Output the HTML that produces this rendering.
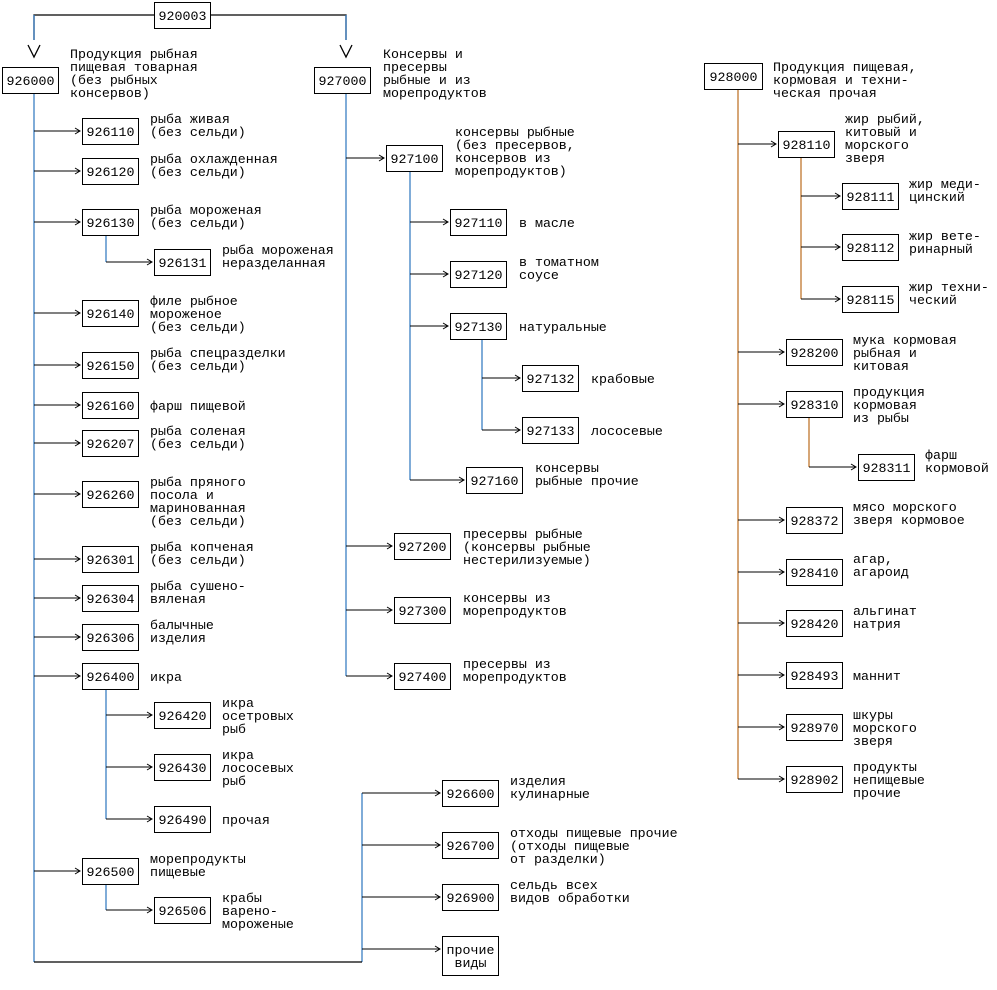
<!DOCTYPE html>
<html><head><meta charset="utf-8"><style>
html,body{margin:0;padding:0;background:#fff}
svg text{font-family:"Liberation Mono","DejaVu Sans Mono",monospace;font-size:13.3px;fill:#000}
</style></head><body>
<svg width="997" height="985" xmlns="http://www.w3.org/2000/svg">
<defs>
<marker id="a" markerWidth="8" markerHeight="8" refX="6" refY="4" orient="auto" markerUnits="userSpaceOnUse">
<path d="M1,1 L6,4 L1,7" fill="none" stroke="#000" stroke-width="1"/>
</marker>
</defs>
<g fill="none" stroke-width="1.3">
<path d="M154,15 H34 V40 M210,15 H346 V40" stroke="#000"/>
<path d="M34,15 V40 M346,15 V40" stroke="#3b7fc4"/>
<path d="M28,45 L34,57 L40,45 M340,45 L346,57 L352,45" stroke="#000"/>
<path d="M34,93 V962 M106,235 V262 M106,689 V819 M106,884 V910 M362,793 V962 M346,93 V676 M410,171 V480 M482,339 V430" stroke="#3b7fc4"/>
<path d="M34,962 H362" stroke="#000"/>
<path d="M738,89 V779 M801,157 V299 M809,417 V467" stroke="#c0762e"/>
</g>
<g stroke="#000" stroke-width="1" marker-end="url(#a)">
<line x1="34" y1="131" x2="80" y2="131"/><line x1="34" y1="171" x2="80" y2="171"/><line x1="34" y1="222" x2="80" y2="222"/><line x1="34" y1="313" x2="80" y2="313"/><line x1="34" y1="365" x2="80" y2="365"/><line x1="34" y1="405" x2="80" y2="405"/><line x1="34" y1="443" x2="80" y2="443"/><line x1="34" y1="494" x2="80" y2="494"/><line x1="34" y1="559" x2="80" y2="559"/><line x1="34" y1="598" x2="80" y2="598"/><line x1="34" y1="637" x2="80" y2="637"/><line x1="34" y1="676" x2="80" y2="676"/><line x1="34" y1="871" x2="80" y2="871"/>
<line x1="106" y1="262" x2="152" y2="262"/><line x1="106" y1="715" x2="152" y2="715"/><line x1="106" y1="767" x2="152" y2="767"/><line x1="106" y1="819" x2="152" y2="819"/><line x1="106" y1="910" x2="152" y2="910"/>
<line x1="346" y1="158" x2="384" y2="158"/><line x1="346" y1="546" x2="392" y2="546"/><line x1="346" y1="610" x2="392" y2="610"/><line x1="346" y1="676" x2="392" y2="676"/>
<line x1="410" y1="222" x2="448" y2="222"/><line x1="410" y1="274" x2="448" y2="274"/><line x1="410" y1="326" x2="448" y2="326"/><line x1="410" y1="480" x2="464" y2="480"/><line x1="482" y1="378" x2="520" y2="378"/><line x1="482" y1="430" x2="520" y2="430"/>
<line x1="362" y1="793" x2="440" y2="793"/><line x1="362" y1="845" x2="440" y2="845"/><line x1="362" y1="897" x2="440" y2="897"/><line x1="362" y1="949" x2="440" y2="949"/>
<line x1="738" y1="144" x2="776" y2="144"/><line x1="738" y1="352" x2="784" y2="352"/><line x1="738" y1="404" x2="784" y2="404"/><line x1="738" y1="520" x2="784" y2="520"/><line x1="738" y1="572" x2="784" y2="572"/><line x1="738" y1="623" x2="784" y2="623"/><line x1="738" y1="675" x2="784" y2="675"/><line x1="738" y1="727" x2="784" y2="727"/><line x1="738" y1="779" x2="784" y2="779"/>
<line x1="801" y1="196" x2="840" y2="196"/><line x1="801" y1="247" x2="840" y2="247"/><line x1="801" y1="299" x2="840" y2="299"/><line x1="809" y1="467" x2="856" y2="467"/>
</g>
<g fill="#fff" stroke="#000" stroke-width="1">
<rect x="154.5" y="2.5" width="56" height="26"/>
<rect x="2.5" y="67.5" width="56" height="26"/>
<rect x="314.5" y="67.5" width="56" height="26"/>
<rect x="704.5" y="63.5" width="58" height="26"/>
<rect x="82.5" y="118.5" width="56" height="26"/><rect x="82.5" y="158.5" width="56" height="26"/><rect x="82.5" y="209.5" width="56" height="26"/><rect x="154.5" y="249.5" width="56" height="26"/><rect x="82.5" y="300.5" width="56" height="26"/><rect x="82.5" y="352.5" width="56" height="26"/><rect x="82.5" y="392.5" width="56" height="26"/><rect x="82.5" y="430.5" width="56" height="26"/><rect x="82.5" y="481.5" width="56" height="26"/><rect x="82.5" y="546.5" width="56" height="26"/><rect x="82.5" y="585.5" width="56" height="26"/><rect x="82.5" y="624.5" width="56" height="26"/><rect x="82.5" y="663.5" width="56" height="26"/><rect x="154.5" y="702.5" width="56" height="26"/><rect x="154.5" y="754.5" width="56" height="26"/><rect x="154.5" y="806.5" width="56" height="26"/><rect x="82.5" y="858.5" width="56" height="26"/><rect x="154.5" y="897.5" width="56" height="26"/>
<rect x="386.5" y="145.5" width="56" height="26"/><rect x="450.5" y="209.5" width="56" height="26"/><rect x="450.5" y="261.5" width="56" height="26"/><rect x="450.5" y="313.5" width="56" height="26"/><rect x="522.5" y="365.5" width="56" height="26"/><rect x="522.5" y="417.5" width="56" height="26"/><rect x="466.5" y="467.5" width="56" height="26"/><rect x="394.5" y="533.5" width="56" height="26"/><rect x="394.5" y="597.5" width="56" height="26"/><rect x="394.5" y="663.5" width="56" height="26"/>
<rect x="442.5" y="780.5" width="56" height="26"/><rect x="442.5" y="832.5" width="56" height="26"/><rect x="442.5" y="884.5" width="56" height="26"/><rect x="442.5" y="936.5" width="56" height="39"/>
<rect x="778.5" y="131.5" width="56" height="26"/><rect x="842.5" y="183.5" width="56" height="26"/><rect x="842.5" y="234.5" width="56" height="26"/><rect x="842.5" y="286.5" width="56" height="26"/><rect x="786.5" y="339.5" width="56" height="26"/><rect x="786.5" y="391.5" width="56" height="26"/><rect x="858.5" y="454.5" width="56" height="26"/><rect x="786.5" y="507.5" width="56" height="26"/><rect x="786.5" y="559.5" width="56" height="26"/><rect x="786.5" y="610.5" width="56" height="26"/><rect x="786.5" y="662.5" width="56" height="26"/><rect x="786.5" y="714.5" width="56" height="26"/><rect x="786.5" y="766.5" width="56" height="26"/>
</g>
<g text-anchor="middle">
<text x="182.5" y="20">920003</text><text x="30.5" y="85">926000</text><text x="342.5" y="85">927000</text><text x="733.5" y="81">928000</text>
<text x="110.5" y="136">926110</text><text x="110.5" y="176">926120</text><text x="110.5" y="227">926130</text><text x="182.5" y="267">926131</text><text x="110.5" y="318">926140</text><text x="110.5" y="370">926150</text><text x="110.5" y="410">926160</text><text x="110.5" y="448">926207</text><text x="110.5" y="499">926260</text><text x="110.5" y="564">926301</text><text x="110.5" y="603">926304</text><text x="110.5" y="642">926306</text><text x="110.5" y="681">926400</text><text x="182.5" y="720">926420</text><text x="182.5" y="772">926430</text><text x="182.5" y="824">926490</text><text x="110.5" y="876">926500</text><text x="182.5" y="915">926506</text>
<text x="414.5" y="163">927100</text><text x="478.5" y="227">927110</text><text x="478.5" y="279">927120</text><text x="478.5" y="331">927130</text><text x="550.5" y="383">927132</text><text x="550.5" y="435">927133</text><text x="494.5" y="485">927160</text><text x="422.5" y="551">927200</text><text x="422.5" y="615">927300</text><text x="422.5" y="681">927400</text>
<text x="470.5" y="798">926600</text><text x="470.5" y="850">926700</text><text x="470.5" y="902">926900</text><text x="470.5" y="954">прочие</text><text x="470.5" y="967">виды</text>
<text x="806.5" y="149">928110</text><text x="870.5" y="201">928111</text><text x="870.5" y="252">928112</text><text x="870.5" y="304">928115</text><text x="814.5" y="357">928200</text><text x="814.5" y="409">928310</text><text x="886.5" y="472">928311</text><text x="814.5" y="525">928372</text><text x="814.5" y="577">928410</text><text x="814.5" y="628">928420</text><text x="814.5" y="680">928493</text><text x="814.5" y="732">928970</text><text x="814.5" y="784">928902</text>
</g>
<g xml:space="preserve">
<text x="70" y="58">Продукция рыбная</text><text x="70" y="71">пищевая товарная</text><text x="70" y="84">(без рыбных</text><text x="70" y="97">консервов)</text>
<text x="150" y="123">рыба живая</text><text x="150" y="136">(без сельди)</text>
<text x="150" y="163">рыба охлажденная</text><text x="150" y="176">(без сельди)</text>
<text x="150" y="214">рыба мороженая</text><text x="150" y="227">(без сельди)</text>
<text x="222" y="254">рыба мороженая</text><text x="222" y="267">неразделанная</text>
<text x="150" y="305">филе рыбное</text><text x="150" y="318">мороженое</text><text x="150" y="331">(без сельди)</text>
<text x="150" y="357">рыба спецразделки</text><text x="150" y="370">(без сельди)</text>
<text x="150" y="410">фарш пищевой</text>
<text x="150" y="435">рыба соленая</text><text x="150" y="448">(без сельди)</text>
<text x="150" y="486">рыба пряного</text><text x="150" y="499">посола и</text><text x="150" y="512">маринованная</text><text x="150" y="525">(без сельди)</text>
<text x="150" y="551">рыба копченая</text><text x="150" y="564">(без сельди)</text>
<text x="150" y="590">рыба сушено-</text><text x="150" y="603">вяленая</text>
<text x="150" y="629">балычные</text><text x="150" y="642">изделия</text>
<text x="150" y="681">икра</text>
<text x="222" y="707">икра</text><text x="222" y="720">осетровых</text><text x="222" y="733">рыб</text>
<text x="222" y="759">икра</text><text x="222" y="772">лососевых</text><text x="222" y="785">рыб</text>
<text x="222" y="824">прочая</text>
<text x="150" y="863">морепродукты</text><text x="150" y="876">пищевые</text>
<text x="222" y="902">крабы</text><text x="222" y="915">варено-</text><text x="222" y="928">мороженые</text>
<text x="383" y="58">Консервы и</text><text x="383" y="71">пресервы</text><text x="383" y="84">рыбные и из</text><text x="383" y="97">морепродуктов</text>
<text x="455" y="136">консервы рыбные</text><text x="455" y="149">(без пресервов,</text><text x="455" y="162">консервов из</text><text x="455" y="175">морепродуктов)</text>
<text x="519" y="227">в масле</text>
<text x="519" y="266">в томатном</text><text x="519" y="279">соусе</text>
<text x="519" y="331">натуральные</text>
<text x="591" y="383">крабовые</text><text x="591" y="435">лососевые</text>
<text x="535" y="472">консервы</text><text x="535" y="485">рыбные прочие</text>
<text x="463" y="538">пресервы рыбные</text><text x="463" y="551">(консервы рыбные</text><text x="463" y="564">нестерилизуемые)</text>
<text x="463" y="602">консервы из</text><text x="463" y="615">морепродуктов</text>
<text x="463" y="668">пресервы из</text><text x="463" y="681">морепродуктов</text>
<text x="510" y="785">изделия</text><text x="510" y="798">кулинарные</text>
<text x="510" y="837">отходы пищевые прочие</text><text x="510" y="850">(отходы пищевые</text><text x="510" y="863">от разделки)</text>
<text x="510" y="889">сельдь всех</text><text x="510" y="902">видов обработки</text>
<text x="773" y="71">Продукция пищевая,</text><text x="773" y="84">кормовая и техни-</text><text x="773" y="97">ческая прочая</text>
<text x="845" y="123">жир рыбий,</text><text x="845" y="136">китовый и</text><text x="845" y="149">морского</text><text x="845" y="162">зверя</text>
<text x="909" y="188">жир меди-</text><text x="909" y="201">цинский</text>
<text x="909" y="240">жир вете-</text><text x="909" y="253">ринарный</text>
<text x="909" y="291">жир техни-</text><text x="909" y="304">ческий</text>
<text x="853" y="344">мука кормовая</text><text x="853" y="357">рыбная и</text><text x="853" y="370">китовая</text>
<text x="853" y="396">продукция</text><text x="853" y="409">кормовая</text><text x="853" y="422">из рыбы</text>
<text x="925" y="459">фарш</text><text x="925" y="472">кормовой</text>
<text x="853" y="511">мясо морского</text><text x="853" y="524">зверя кормовое</text>
<text x="853" y="563">агар,</text><text x="853" y="576">агароид</text>
<text x="853" y="615">альгинат</text><text x="853" y="628">натрия</text>
<text x="853" y="680">маннит</text>
<text x="853" y="719">шкуры</text><text x="853" y="732">морского</text><text x="853" y="745">зверя</text>
<text x="853" y="771">продукты</text><text x="853" y="784">непищевые</text><text x="853" y="797">прочие</text>
</g>
</svg>
</body></html>
